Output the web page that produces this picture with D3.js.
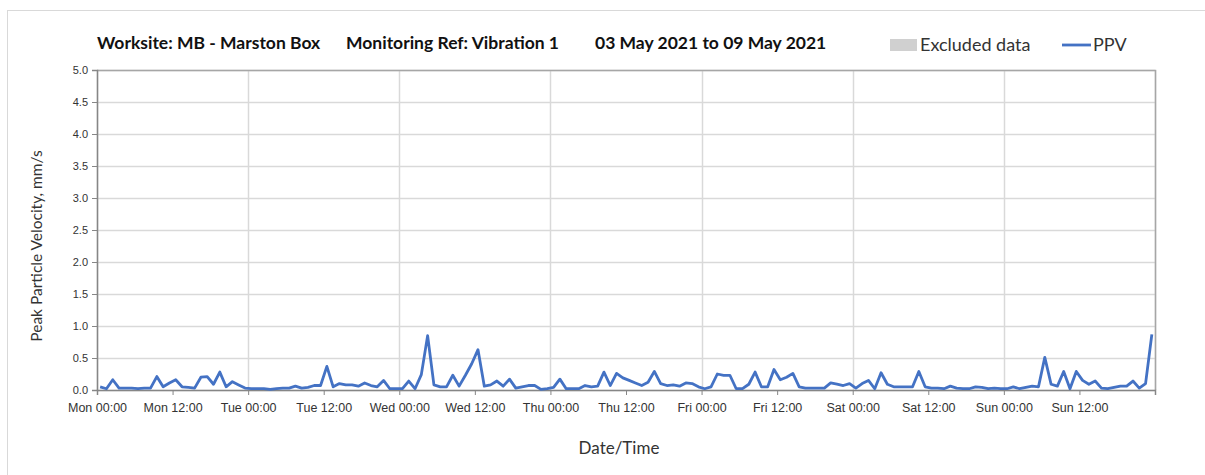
<!DOCTYPE html>
<head>
<meta charset="utf-8">
<title>PPV chart</title>
<style>
    body { margin:0; background:#fff; }
    svg { display:block; font-family: Lato, "Open Sans", sans-serif; }
</style>
</head>
<body>
<svg width="1205" height="475"></svg>

<script src="https://cdnjs.cloudflare.com/ajax/libs/d3/7.8.5/d3.min.js"></script>
<script>
// hourly PPV readings, mm/s, Mon 03 May 2021 00:30 onwards
var ppv = [
  0.05,0.02,0.16,0.03,0.03,0.03,0.02,0.03,0.03,0.21,0.05,0.11,0.16,0.05,0.04,0.03,0.20,0.21,0.09,0.28,0.05,0.13,0.08,0.03,
  0.02,0.02,0.02,0.01,0.02,0.03,0.03,0.06,0.03,0.04,0.07,0.07,0.37,0.05,0.10,0.08,0.08,0.06,0.11,0.07,0.05,0.15,0.02,0.02,
  0.02,0.14,0.02,0.24,0.85,0.08,0.05,0.05,0.23,0.06,0.23,0.41,0.63,0.06,0.08,0.14,0.06,0.17,0.03,0.05,0.07,0.07,0.01,0.02,
  0.04,0.17,0.02,0.02,0.02,0.07,0.05,0.06,0.28,0.07,0.26,0.19,0.15,0.11,0.07,0.12,0.29,0.10,0.07,0.08,0.06,0.11,0.10,0.05,
  0.02,0.05,0.25,0.23,0.23,0.02,0.02,0.09,0.28,0.05,0.05,0.32,0.16,0.20,0.26,0.05,0.03,0.03,0.03,0.03,0.11,0.09,0.07,0.10,
  0.03,0.10,0.15,0.02,0.27,0.09,0.05,0.05,0.05,0.05,0.29,0.05,0.03,0.03,0.02,0.06,0.03,0.02,0.02,0.05,0.04,0.02,0.03,0.02,
  0.02,0.05,0.02,0.04,0.06,0.05,0.51,0.09,0.06,0.29,0.02,0.29,0.15,0.09,0.14,0.03,0.02,0.04,0.06,0.06,0.14,0.03,0.10,0.87
];
var days = ["Mon","Tue","Wed","Thu","Fri","Sat","Sun"];
var yTicks = [0,0.5,1,1.5,2,2.5,3,3.5,4,4.5,5];
var titleParts = ["Worksite: MB - Marston Box", "Monitoring Ref: Vibration 1", "03 May 2021 to 09 May 2021"];

var start = new Date(2021, 4, 3, 0, 0);
var end = new Date(2021, 4, 10, 0, 0);
var hour = 3600 * 1000;

var svg = d3.select("svg");
var m = {left: 97, right: 1155, top: 70, bottom: 390};

// outer frame
svg.append("rect")
    .attr("x", 7.5).attr("y", 10.5).attr("width", 1205).attr("height", 500)
    .attr("fill", "none").attr("stroke", "#d9d9d9");

var x = d3.scaleTime().domain([start, end]).range([m.left, m.right]);
var y = d3.scaleLinear().domain([0, 5]).range([m.bottom, m.top]);

var halfDays = d3.range(0, 14).map(function(i){ return new Date(start.getTime() + i * 12 * hour) });
var dayTicks = d3.range(0, 8).map(function(i){ return new Date(start.getTime() + i * 24 * hour) });

// gridlines
svg.append("g").selectAll("line").data(yTicks).join("line")
    .attr("x1", m.left).attr("x2", m.right)
    .attr("y1", function(d){ return Math.round(y(d)) + 0.5 })
    .attr("y2", function(d){ return Math.round(y(d)) + 0.5 })
    .attr("stroke", "#d9d9d9").attr("stroke-width", 1.5);
svg.append("g").selectAll("line").data(dayTicks).join("line")
    .attr("x1", function(d){ return Math.round(x(d)) + 0.5 })
    .attr("x2", function(d){ return Math.round(x(d)) + 0.5 })
    .attr("y1", m.top).attr("y2", m.bottom)
    .attr("stroke", "#d9d9d9").attr("stroke-width", 1.5);

// plot border top/right
svg.append("path")
    .attr("d", "M" + m.left + "," + (m.top + 0.5) + "H" + (m.right + 0.5) + "V" + m.bottom)
    .attr("fill", "none").attr("stroke", "#a6a6a6").attr("stroke-width", 1.5);

// axes
var yAxis = d3.axisLeft(y).tickValues(yTicks).tickSize(5).tickPadding(4)
    .tickFormat(d3.format(".1f"));
var gy = svg.append("g").attr("transform", "translate(" + m.left + ",0)").call(yAxis);
gy.select(".domain").attr("stroke", "#868686").attr("stroke-width", 1.5);
gy.selectAll(".tick line").attr("stroke", "#868686");
gy.selectAll("text").attr("font-size", 11).attr("fill", "#333");

var xAxis = d3.axisBottom(x).tickValues(halfDays).tickSize(5).tickPadding(8)
    .tickFormat(function(d){ return days[d.getDay() === 0 ? 6 : d.getDay() - 1] + " " + d3.timeFormat("%H:%M")(d) });
var gx = svg.append("g").attr("transform", "translate(0," + m.bottom + ")").call(xAxis);
gx.select(".domain").attr("stroke", "#868686").attr("stroke-width", 1.5);
gx.selectAll(".tick line").attr("stroke", "#868686");
gx.selectAll("text").attr("font-size", 12.5).attr("fill", "#333");

// PPV line
var line = d3.line()
    .x(function(d, i){ return x(new Date(start.getTime() + (i + 0.5) * hour)) })
    .y(function(d){ return y(d) });
svg.append("path").datum(ppv)
    .attr("d", line)
    .attr("fill", "none").attr("stroke", "#4472c4").attr("stroke-width", 2.8)
    .attr("stroke-linejoin", "round");

// title
var titleX = [97, 346, 595];
svg.append("g").selectAll("text").data(titleParts).join("text")
    .attr("x", function(d, i){ return titleX[i] })
    .attr("y", 49)
    .attr("font-size", 17.5).attr("font-weight", "bold").attr("fill", "#111")
    .text(function(d){ return d });

// legend
svg.append("rect").attr("x", 890).attr("y", 39).attr("width", 27).attr("height", 12).attr("fill", "#d0d0d0");
svg.append("text").attr("x", 920).attr("y", 51).attr("font-size", 18).attr("fill", "#333").text("Excluded data");
svg.append("line").attr("x1", 1062).attr("x2", 1091).attr("y1", 45).attr("y2", 45)
    .attr("stroke", "#4472c4").attr("stroke-width", 2.8);
svg.append("text").attr("x", 1093).attr("y", 51).attr("font-size", 18).attr("fill", "#333").text("PPV");

// axis titles
svg.append("text")
    .attr("transform", "translate(42,246) rotate(-90)")
    .attr("text-anchor", "middle").attr("font-size", 15.5).attr("fill", "#333")
    .text("Peak Particle Velocity, mm/s");
svg.append("text")
    .attr("x", 619).attr("y", 454)
    .attr("text-anchor", "middle").attr("font-size", 17).attr("fill", "#333")
    .text("Date/Time");
</script>
</body>
